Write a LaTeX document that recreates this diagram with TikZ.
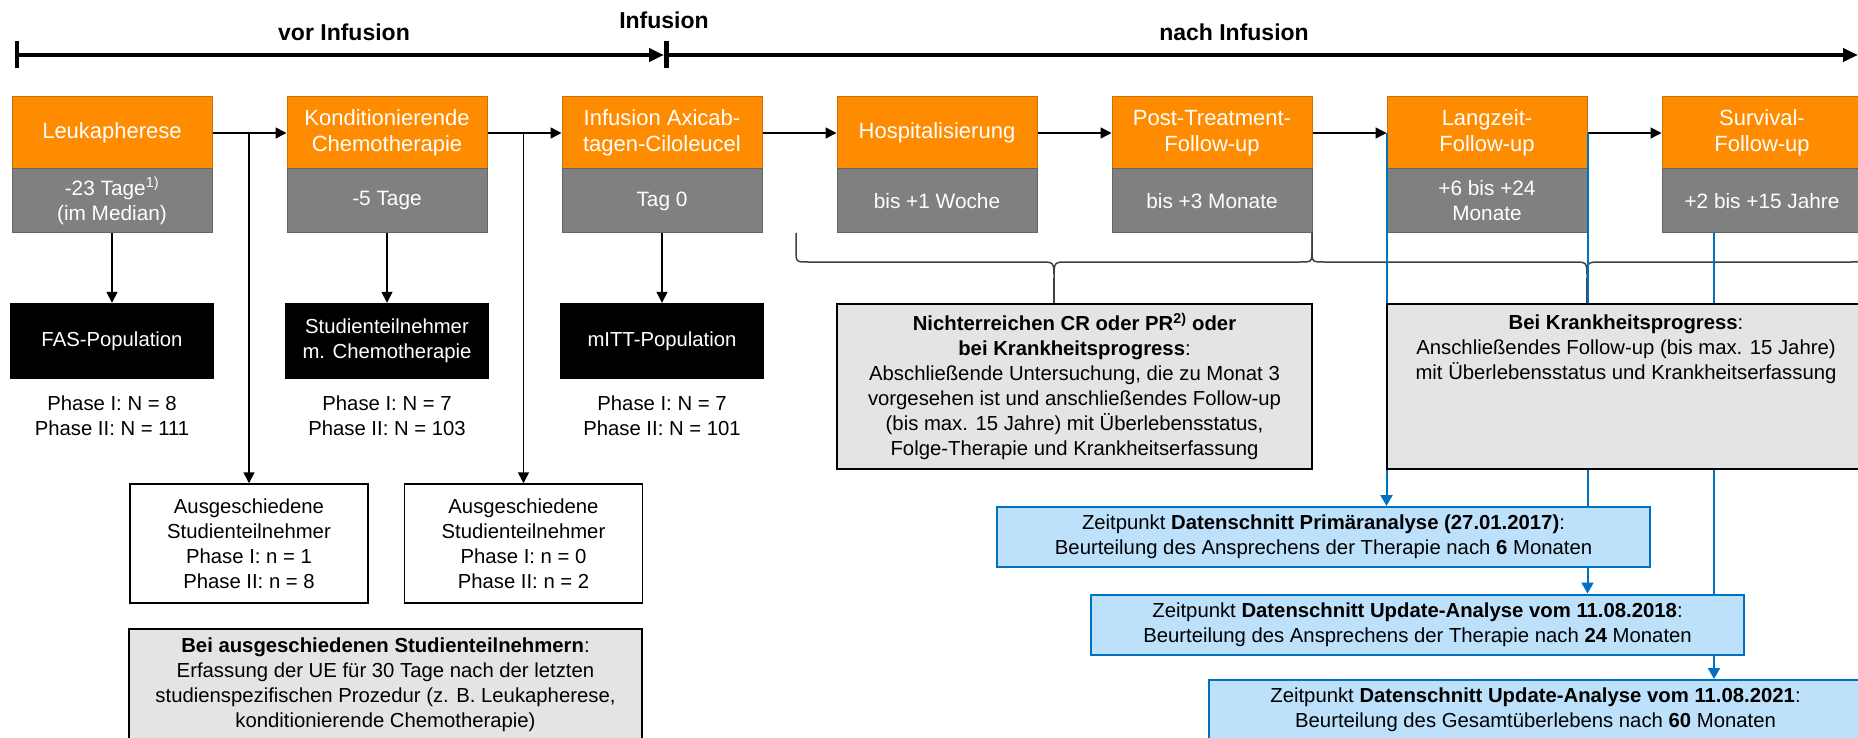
\documentclass[tikz,border=0pt]{standalone}
\usepackage{fontspec}
\setmainfont{Liberation Sans}
\usetikzlibrary{arrows.meta,positioning,calc}
\definecolor{StepOrange}{RGB}{255,140,0}
\definecolor{StepOrangeDark}{RGB}{204,112,0}
\definecolor{StepGray}{RGB}{128,128,128}
\definecolor{StepGrayDark}{RGB}{100,100,100}
\definecolor{NoteGray}{RGB}{228,228,228}
\definecolor{CutBlue}{RGB}{0,112,192}
\definecolor{CutFill}{RGB}{189,224,251}
\pgfdeclarelayer{front}
\pgfsetlayers{main,front}

\begin{document}
\begin{tikzpicture}[x=1pt,y=-1pt,font=\fontsize{20.3}{25}\selectfont,
  heading/.style={font=\fontsize{23}{27}\selectfont\bfseries},
  phasebox/.style={draw=StepOrangeDark,fill=StepOrange,text=white,line width=1pt,
    minimum width=200pt,minimum height=72pt,inner sep=0pt,align=center,
    font=\fontsize{22}{26}\selectfont},
  timebox/.style={draw=StepGrayDark,fill=StepGray,text=white,line width=1pt,
    minimum width=200pt,minimum height=64pt,inner sep=0pt,align=center,
    font=\fontsize{20.8}{25}\selectfont},
  popbox/.style={fill=black,text=white,minimum width=204pt,minimum height=76pt,
    inner sep=0pt,align=center},
  dropbox/.style={draw,line width=1.5pt,fill=white,minimum width=238pt,
    minimum height=119pt,inner sep=0pt,align=center},
  notebox/.style={draw,line width=1.5pt,fill=NoteGray,inner sep=0pt,align=center},
  cutbox/.style={draw=CutBlue,line width=2pt,fill=CutFill,minimum width=653pt,
    minimum height=60pt,inner sep=0pt,align=center},
  arr/.style={line width=1.5pt,-{Triangle[length=11pt,width=11pt]}},
  bluearr/.style={CutBlue,line width=2pt,-{Triangle[length=11pt,width=12pt]}},
  braceline/.style={line width=1.5pt,draw=black!75},
  axis/.style={line width=4.5pt,{Bar[width=27pt]}-{Triangle[length=15pt,width=13pt]}}]
  \useasboundingbox (0,0) rectangle (1858,738);

  \coordinate (t0) at (14.7,55);
  \coordinate (t1) at (664,55);
  \coordinate (t2) at (1858,55);
  \draw[axis] (t0) -- (t1);
  \draw[axis] (t1) -- (t2);
  \node[heading] (vor) at (344,32) {vor Infusion};
  \node[heading] (inf) at (664,20) {Infusion};
  \node[heading] (nach) at (1234,32) {nach Infusion};

  \node[phasebox] (leuk) at (112,133) {Leukapherese};
  \node[timebox] (leukt) at (112,201) {-23 Tage\textsuperscript{1)}\\(im Median)};
  \node[phasebox] (kond) at (387,133) {Konditionierende\\Chemotherapie};
  \node[timebox] (kondt) at (387,201) {-5 Tage};
  \node[phasebox] (axi) at (662,133) {Infusion Axicab-\\tagen-Ciloleucel};
  \node[timebox] (axit) at (662,201) {Tag 0};
  \node[phasebox] (hosp) at (937,133) {Hospitalisierung};
  \node[timebox] (hospt) at (937,201) {bis +1 Woche};
  \node[phasebox] (post) at (1212,133) {Post-Treatment-\\Follow-up};
  \node[timebox] (postt) at (1212,201) {bis +3 Monate};
  \node[phasebox] (lang) at (1487,133) {Langzeit-\\Follow-up};
  \node[timebox] (langt) at (1487,201) {+6 bis +24\\Monate};
  \node[phasebox] (surv) at (1762,133) {Survival-\\Follow-up};
  \node[timebox] (survt) at (1762,201) {+2 bis +15 Jahre};

  \node[popbox] (fas) at (112,341) {FAS-Population};
  \node[popbox] (chemo) at (387,341) {Studienteilnehmer\\m. Chemotherapie};
  \node[popbox] (mitt) at (662,341) {mITT-Population};
  \node[align=center] (fasn) at (112,416) {Phase I: N = 8\\Phase II: N = 111};
  \node[align=center] (chemon) at (387,416) {Phase I: N = 7\\Phase II: N = 103};
  \node[align=center] (mittn) at (662,416) {Phase I: N = 7\\Phase II: N = 101};

  \node[dropbox] (drop1) at (249,543.5) {Ausgeschiedene\\Studienteilnehmer\\Phase I: n = 1\\Phase II: n = 8};
  \node[dropbox] (drop2) at (523.5,543.5) {Ausgeschiedene\\Studienteilnehmer\\Phase I: n = 0\\Phase II: n = 2};
  \node[notebox,minimum width=513pt,minimum height=112pt] (dropnote) at (385.5,685)
    {\textbf{Bei ausgeschiedenen Studienteilnehmern}:\\Erfassung der UE für 30 Tage nach der letzten\\studienspezifischen Prozedur (z. B. Leukapherese,\\konditionierende Chemotherapie)};

  \node[notebox,minimum width=475pt,minimum height=165pt] (nicht) at (1074.5,386.5)
    {\textbf{Nichterreichen CR oder PR\textsuperscript{2)} oder}\\\textbf{bei Krankheitsprogress}:\\Abschließende Untersuchung, die zu Monat 3\\vorgesehen ist und anschließendes Follow-up\\(bis max. 15 Jahre) mit Überlebensstatus,\\Folge-Therapie und Krankheitserfassung};

  \begin{pgfonlayer}{front}
    \node[notebox,minimum width=478pt,minimum height=165pt] (prog) at (1626,386.5) {};
    \node[align=center] (progtext) at (1626,349)
      {\textbf{Bei Krankheitsprogress}:\\Anschließendes Follow-up (bis max. 15 Jahre)\\mit Überlebensstatus und Krankheitserfassung};
    \node[cutbox] (prim) at (1323.5,537)
      {Zeitpunkt \textbf{Datenschnitt Primäranalyse (27.01.2017)}:\\Beurteilung des Ansprechens der Therapie nach \textbf{6} Monaten};
    \node[cutbox] (upd1) at (1417.5,624.5)
      {Zeitpunkt \textbf{Datenschnitt Update-Analyse vom 11.08.2018}:\\Beurteilung des Ansprechens der Therapie nach \textbf{24} Monaten};
    \node[cutbox] (upd2) at (1535.5,710)
      {Zeitpunkt \textbf{Datenschnitt Update-Analyse vom 11.08.2021}:\\Beurteilung des Gesamtüberlebens nach \textbf{60} Monaten};
  \end{pgfonlayer}

  \draw[arr] (leuk) -- (kond);
  \draw[arr] (kond) -- (axi);
  \draw[arr] (axi) -- (hosp);
  \draw[arr] (hosp) -- (post);
  \draw[arr] (post) -- (lang);
  \draw[arr] (lang) -- (surv);
  \draw[arr] (leuk.east -| drop1.north) -- (drop1.north);
  \draw[arr] (kond.east -| drop2.north) -- (drop2.north);
  \draw[arr] (leukt) -- (fas);
  \draw[arr] (kondt) -- (chemo);
  \draw[arr] (axit) -- (mitt);

  \draw[braceline] (796,233) -- (796,250) .. controls (796,262) .. (808,262) -- (1040,262)
    .. controls (1054,262) .. (1054,278) .. controls (1054,262) .. (1068,262) -- (1300,262)
    .. controls (1312,262) .. (1312,250) -- (1312,233);
  \draw[braceline] (1054,278) -- (nicht.north -| 1054,0);
  \draw[braceline] (1312,233) -- (1312,250) .. controls (1312,262) .. (1324,262) -- (1573,262)
    .. controls (1587,262) .. (1587,278) .. controls (1587,262) .. (1601,262) -- (1851,262)
    .. controls (1863,262) .. (1863,250) -- (1863,233);
  \draw[braceline] (1587,278) -- (prog.north -| 1587,0);

  \draw[bluearr] (lang.west) -- (lang.west |- prim.north);
  \draw[bluearr] (lang.east) -- (lang.east |- upd1.north);
  \coordinate (survdrop) at ([xshift=-48pt]survt.south);
  \draw[bluearr] (survdrop) -- (survdrop |- upd2.north);
\end{tikzpicture}
\end{document}
